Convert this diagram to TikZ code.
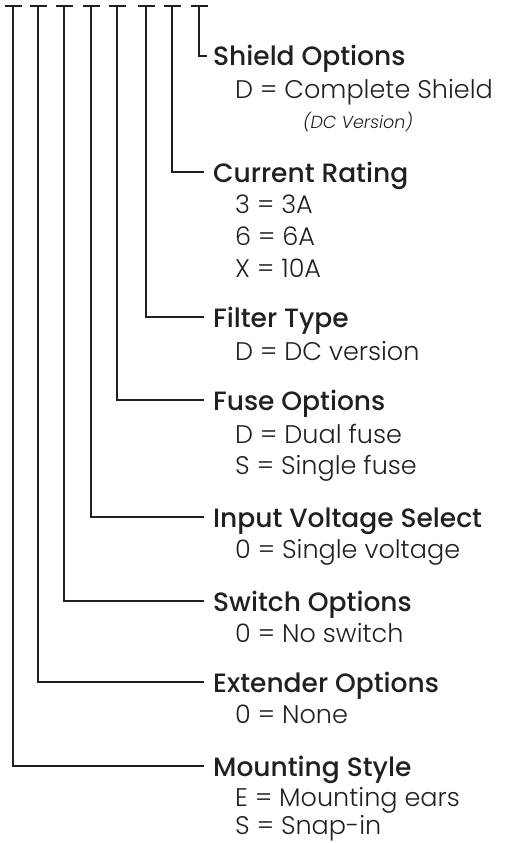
\documentclass[tikz,border=0pt]{standalone}
\usepackage{fontspec}
\setmainfont{Poppins}
\newfontfamily\headfont{Poppins Medium}
\newfontfamily\itemfont{Poppins Light}
\definecolor{ink}{HTML}{231F20}
\begin{document}
\begin{tikzpicture}[x=1pt, y=-1pt,
    head/.style={anchor=base west, inner xsep=9pt, inner ysep=0pt, text height=20pt, text depth=0pt,
                 font=\headfont\fontsize{26.5}{30}\selectfont, text=ink},
    item/.style={anchor=base west, inner sep=0pt, font=\itemfont\fontsize{25.5}{30}\selectfont, text=ink},
    note/.style={anchor=base west, inner sep=0pt, font=\itemfont\itshape\fontsize{17.5}{20}\selectfont, text=ink},
    tick/.style={draw=ink, line width=2.8pt, line join=miter}]
    \useasboundingbox (0,0) rectangle (508,843);
    % Tops of the code positions
    \coordinate (tM) at (13,6);
    \coordinate (tE) at (38,6);
    \coordinate (tS) at (64,6);
    \coordinate (tI) at (91,6);
    \coordinate (tF) at (117,6);
    \coordinate (tT) at (146,6);
    \coordinate (tC) at (172,6);
    \coordinate (tD) at (199,6);
    % Headings
    \node[head, inner xsep=6pt] (shield) at (207,66) {Shield Options};
    \node[head] (current)  at (204,182) {Current Rating};
    \node[head] (filter)   at (204,327) {Filter Type};
    \node[head] (fuse)     at (204,410) {Fuse Options};
    \node[head] (input)    at (204,527) {Input Voltage Select};
    \node[head] (switch)   at (204,611) {Switch Options};
    \node[head] (extender) at (204,692) {Extender Options};
    \node[head] (mounting) at (204,776) {Mounting Style};
    % Option lines
    \node[item] (shieldD)  at (235,98)  {D = Complete Shield};
    \node[note] (shieldN)  at (303,128) {(DC Version)};
    \node[item] (current3) at (235,213) {3 = 3A};
    \node[item] (current6) at (235,245) {6 = 6A};
    \node[item] (currentX) at (235,277) {X = 10A};
    \node[item] (filterD)  at (235,360) {D = DC version};
    \node[item] (fuseD)    at (235,443) {D = Dual fuse};
    \node[item] (fuseS)    at (235,474) {S = Single fuse};
    \node[item] (input0)   at (235,558) {0 = Single voltage};
    \node[item] (switch0)  at (235,642) {0 = No switch};
    \node[item] (extender0) at (235,723) {0 = None};
    \node[item] (mountingE) at (235,806) {E = Mounting ears};
    \node[item] (mountingS) at (235,834) {S = Snap-in};
    % T bars on top
    \foreach \t in {tM,tE,tS,tI,tF,tT,tC,tD}
      \draw[tick] ([xshift=-8.5pt]\t) -- ([xshift=8.5pt]\t);
    % Leaders down to the headings
    \draw[tick] (tD) |- (shield.west);
    \draw[tick] (tC) |- (current.west);
    \draw[tick] (tT) |- (filter.west);
    \draw[tick] (tF) |- (fuse.west);
    \draw[tick] (tI) |- (input.west);
    \draw[tick] (tS) |- (switch.west);
    \draw[tick] (tE) |- (extender.west);
    \draw[tick] (tM) |- (mounting.west);
\end{tikzpicture}
\end{document}
